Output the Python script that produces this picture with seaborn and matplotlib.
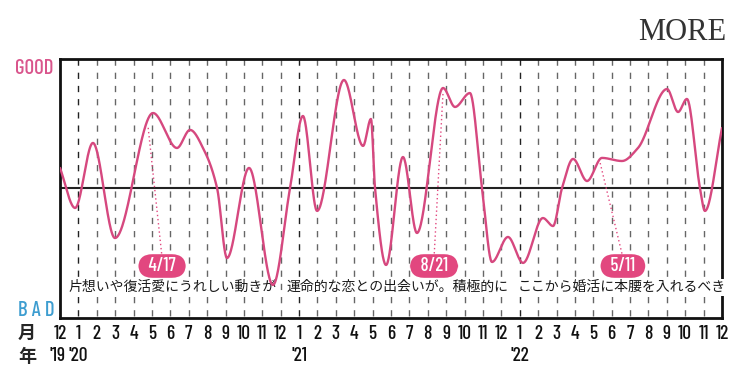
import numpy as np
import matplotlib
matplotlib.use("Agg")
import matplotlib.pyplot as plt
import seaborn as sns

# fortune curve: key points (month index 0 = Dec '19)
months = [0, 0.82, 1.79, 2.99, 5.06, 6.36, 7.07, 7.88, 8.54, 9.08, 10.28, 11.58,
          12.51, 13.21, 13.98, 15.44, 16.48, 16.91, 17.13, 17.73, 18.65, 19.41,
          20.83, 21.48, 22.29, 22.95, 23.49, 24.36, 25.18, 26.26, 26.81, 27.30,
          27.90, 28.66, 29.47, 30.56, 31.43, 33.01, 33.61, 34.09, 34.80, 35.07, 36.0]
luck = [15.5, -15.5, 34.9, -38.8, 58.1, 31.0, 45.0, 27.9, 0, -54.3, 15.5, -75.2,
        0, 55.8, -17.8, 83.7, 32.6, 53.5, 0, -59.7, 24.0, -34.9,
        77.5, 62.8, 73.6, 0, -57.4, -38.0, -58.1, -23.3, -29.5, 0,
        22.5, 5.4, 23.3, 20.9, 31.0, 76.7, 58.9, 69.0, 0, -17.8, 46.5]

month_labels = ["12"] + [str(i) for i in range(1, 13)] * 3
year_labels = ["'19", "'20", "'21", "'22"]
year_pos = [-0.15, 1, 13, 25]

dates = ["4/17", "8/21", "5/11"]
date_box_x = [5.55, 20.34, 30.61]
date_target = [(4.79, 47.3), (20.83, 74.4), (29.36, 20.2)]
messages = ["片想いや復活愛にうれしい動きが", "運命的な恋との出会いが。積極的に", "ここから婚活に本腰を入れるべき"]
message_x = [6.14, 18.33, 30.56]

PINK = "#d6487f"
BOX = "#e2477f"
BLUE = "#3d9dd0"
JP = ["Noto Sans CJK JP", "DejaVu Sans"]
NARROW = ["Barlow Condensed", "DejaVu Sans"]


def pchip(x, y, xs):
    # smooth monotone cubic through the read points, only for drawing
    x = np.asarray(x, float)
    y = np.asarray(y, float)
    h = np.diff(x)
    d = np.diff(y) / h
    m = np.zeros_like(y)
    m[0], m[-1] = d[0], d[-1]
    for k in range(1, len(x) - 1):
        if d[k - 1] * d[k] > 0:
            w1 = 2 * h[k] + h[k - 1]
            w2 = h[k] + 2 * h[k - 1]
            m[k] = (w1 + w2) / (w1 / d[k - 1] + w2 / d[k])
    idx = np.clip(np.searchsorted(x, xs) - 1, 0, len(x) - 2)
    t = (xs - x[idx]) / h[idx]
    h00 = 2 * t**3 - 3 * t**2 + 1
    h10 = t**3 - 2 * t**2 + t
    h01 = -2 * t**3 + 3 * t**2
    h11 = t**3 - t**2
    return h00 * y[idx] + h10 * h[idx] * m[idx] + h01 * y[idx + 1] + h11 * h[idx] * m[idx + 1]


sns.set_style("white")
plt.rcParams["font.family"] = JP

fig = plt.figure(figsize=(7.5, 3.86), dpi=100)
ax = fig.add_axes([0.08, 0.1762, 0.8827, 0.671])
ax.set_xlim(0, 36)
ax.set_ylim(-100.8, 100)

# monthly dashed guides
for m in range(1, 36):
    col = "#222222" if m in (1, 13, 25) else "#666666"
    ax.plot([m, m], [100, -100.8], ls=(0, (4.5, 5)), color=col, lw=1, zorder=1)
ax.axhline(0, color="#222222", lw=1.5, zorder=2)

xs = np.linspace(0, 36, 1500)
sns.lineplot(x=xs, y=pchip(months, luck, xs), color=PINK, lw=1.7, ax=ax, zorder=5)

# messages and date tags
for txt, mx in zip(messages, message_x):
    ax.text(mx, -77, txt, ha="center", va="center", fontsize=10, color="#1a1a1a",
            bbox=dict(boxstyle="square,pad=0.12", fc="white", ec="none"), zorder=3)
for lab, bx, (tx, ty) in zip(dates, date_box_x, date_target):
    ax.plot([bx, tx], [-54, ty], ls=(0, (1, 2)), color=BOX, lw=1, zorder=4)
    ax.text(bx, -60.5, f"  {lab}  ", ha="center", va="center", fontsize=13.5, color="white",
            family=NARROW, weight="medium", zorder=6,
            bbox=dict(boxstyle="round,pad=0.15,rounding_size=0.75", fc=BOX, ec="none"))

for s in ax.spines.values():
    s.set_visible(True)
    s.set_color("#111111")
    s.set_linewidth(2)
ax.set_yticks([])
ax.set_xticks(range(37))
ax.set_xticklabels(month_labels, family=NARROW, fontsize=14, weight="medium", color="#111111")
ax.tick_params(axis="x", length=0, pad=5)

for lab, p in zip(year_labels, year_pos):
    ax.text(p, -0.147, lab, transform=ax.get_xaxis_transform(), ha="center", va="center",
            family=NARROW, fontsize=14, weight="medium", color="#111111")

fig.text(27 / 750, 1 - 333 / 386, "月", ha="center", va="center", fontsize=13, weight="bold")
fig.text(27 / 750, 1 - 356 / 386, "年", ha="center", va="center", fontsize=13, weight="bold")
fig.text(53 / 750, 1 - 68 / 386, "GOOD", ha="right", va="center", fontsize=15,
         family=NARROW, weight="medium", color="#d9558c")
fig.text(55 / 750, 1 - 310 / 386, "B A D", ha="right", va="center", fontsize=15,
         family=NARROW, weight="medium", color=BLUE)
fig.text(682 / 750, 1 - 32 / 386, "MORE", ha="center", va="center", fontsize=22,
         family=["Liberation Serif", "DejaVu Serif"], color="#333333")

fig.savefig("out.png", dpi=100)
